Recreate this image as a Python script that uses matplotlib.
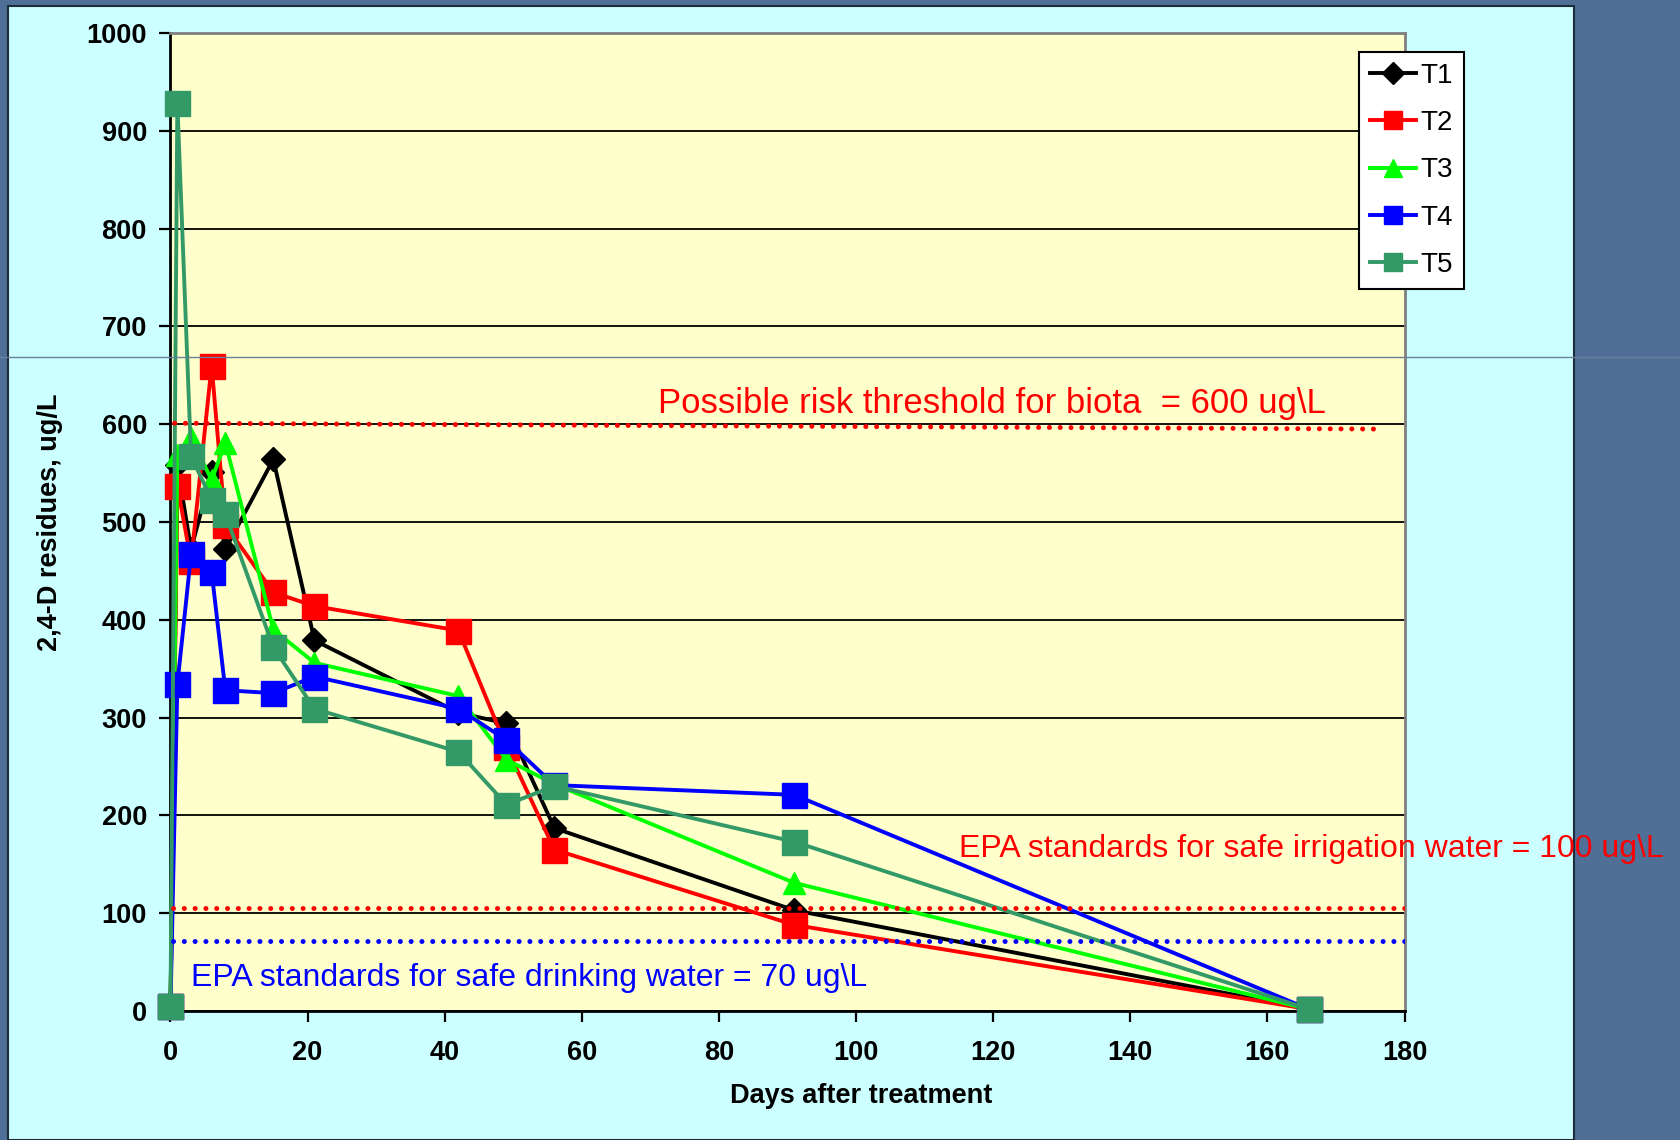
import matplotlib.pyplot as plt
from matplotlib.patches import Rectangle
from matplotlib.lines import Line2D

plt.rcParams['font.family'] = ['Liberation Sans', 'DejaVu Sans']

# Sampling days and 2,4-D residues (ug/L) for each treatment
days = [0, 1, 3, 6, 8, 15, 21, 42, 49, 56, 91, 166]
t1 = [5, 558, 472, 551, 472, 564, 379, 305, 294, 187, 103, 2]
t2 = [5, 537, 460, 660, 497, 428, 414, 389, 270, 165, 88, 2]
t3 = [8, 568, 586, 543, 581, 390, 356, 322, 257, 232, 131, 2]
t4 = [5, 334, 467, 449, 328, 325, 342, 309, 277, 231, 221, 2]
t5 = [5, 928, 567, 523, 508, 372, 309, 265, 211, 230, 173, 2]

series_names = ['T1', 'T2', 'T3', 'T4', 'T5']
series_colors = ['#000000', '#FF0000', '#00FF00', '#0000FF', '#339966']
series_markers = ['D', 's', '^', 's', 's']

# reference levels (ug/L)
biota_level = [601, 595]
biota_days = [0.6, 177]
irrigation_level = 105
drinking_level = 72

xticks = list(range(0, 181, 20))
yticks = list(range(0, 1001, 100))

W, H = 1681, 1140
fig = plt.figure(figsize=(W / 100, H / 100), dpi=100)
fig.patch.set_facecolor('#4F6F97')

# light cyan chart area on the slide
fig.patches.append(Rectangle((8 / W, 0), (1574 - 8) / W, 1 - 6 / H,
                             transform=fig.transFigure, facecolor='#CCFFFF',
                             edgecolor='#1C2A3A', linewidth=1.5, zorder=-1))
# thin guide line running across the slide
fig.lines.append(Line2D([0, 1], [1 - 357 / H] * 2, transform=fig.transFigure,
                        color='#6A8099', linewidth=1.0, zorder=5))

ax = fig.add_axes([170.5 / W, 1 - 1011 / H, (1404.5 - 170.5) / W, (1011 - 33) / H])
ax.set_facecolor('#FFFFCC')

ax.set_xlim(0, 180)
ax.set_ylim(0, 1000)
ax.set_xticks(xticks)
ax.set_yticks(yticks)
ax.yaxis.grid(True, color='black', linewidth=1.3)
ax.set_axisbelow(True)

for s in ['left', 'bottom']:
    ax.spines[s].set_color('black')
    ax.spines[s].set_linewidth(2.0)
for s in ['top', 'right']:
    ax.spines[s].set_color('#808080')
    ax.spines[s].set_linewidth(2.0)

ax.tick_params(direction='out', length=8, width=1.6, color='black',
               labelsize=19.5)
ax.tick_params(axis='x', pad=13)
ax.tick_params(axis='y', pad=9)
for lab in ax.get_xticklabels() + ax.get_yticklabels():
    lab.set_fontweight('bold')

ax.set_xlabel('Days after treatment', fontsize=19.5, fontweight='bold')
ax.xaxis.set_label_coords(0.56, -0.074)
ax.set_ylabel('2,4-D residues, ug/L', fontsize=19.5, fontweight='bold')
ax.yaxis.set_label_coords(-0.0875, 0.5)

all_values = [t1, t2, t3, t4, t5]
marker_sizes = [12, 18, 16.5, 18, 18]
for vals, name, col, mk, ms in zip(all_values, series_names, series_colors,
                                   series_markers, marker_sizes):
    ax.plot(days, vals, color=col, linewidth=2.8, marker=mk, markersize=ms,
            markerfacecolor=col, markeredgecolor=col, label=name,
            clip_on=False, zorder=3)

dot_style = dict(linewidth=3.6, linestyle=(0, (0.01, 2.15)),
                 dash_capstyle='round', zorder=4)
ax.plot(biota_days, biota_level, color='#FF0000', **dot_style)
ax.plot([0.4, 180], [irrigation_level] * 2, color='#FF0000', **dot_style)
ax.plot([0.4, 180], [drinking_level] * 2, color='#0000FF', **dot_style)

fig.text(658 / W, 1 - 403 / H, 'Possible risk threshold for biota  = 600 ug\\L',
         color='#FF0000', fontsize=25, va='center', ha='left', zorder=6)
fig.text(959.5 / W, 1 - 849 / H,
         'EPA standards for safe irrigation water = 100 ug\\L',
         color='#FF0000', fontsize=23.0, va='center', ha='left', zorder=6)
fig.text(191 / W, 1 - 977.7 / H,
         'EPA standards for safe drinking water = 70 ug\\L',
         color='#0000FF', fontsize=23.0, va='center', ha='left', zorder=6)

leg = ax.legend(loc='upper left', bbox_to_anchor=(1359 / W, 1 - 52 / H),
                bbox_transform=fig.transFigure, borderaxespad=0,
                fontsize=20, frameon=True, fancybox=False, framealpha=1,
                edgecolor='black', handlelength=1.66, handletextpad=0.18,
                labelspacing=0.77, borderpad=0.38)
leg.get_frame().set_linewidth(1.5)
for h, ms in zip(leg.legend_handles, [11, 13, 13, 13, 13]):
    h.set_markersize(ms)
    h.set_linewidth(2.8)

fig.savefig('out.png', dpi=100, facecolor=fig.get_facecolor())
